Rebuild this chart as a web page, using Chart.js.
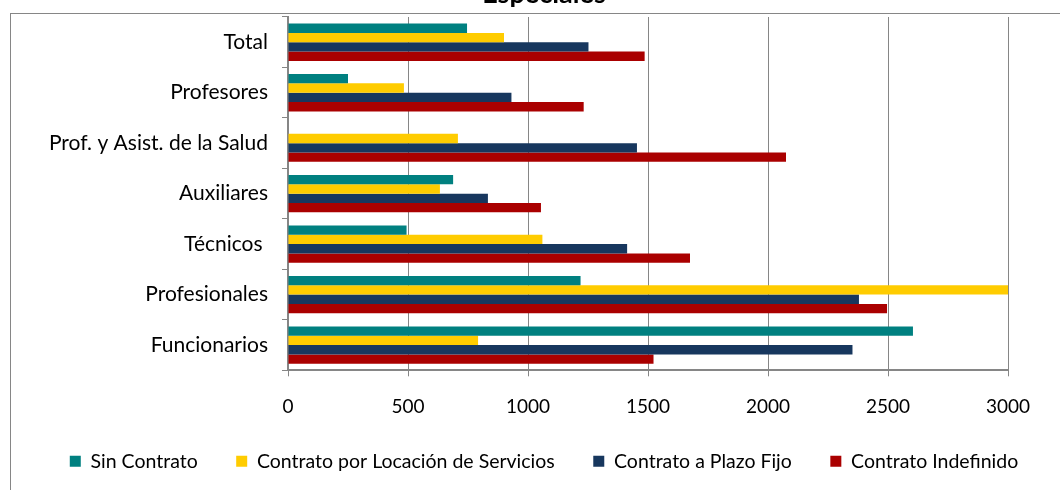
<!DOCTYPE html>
<html>
<head>
<meta charset="utf-8">
<script src="https://cdn.jsdelivr.net/npm/chart.js@4.4.1/dist/chart.umd.min.js"></script>
<style>
  html, body { margin: 0; padding: 0; background: #fff; overflow: hidden; }
  #frame { position: absolute; left: 10px; top: 13px; width: 1100px; height: 500px;
           border-left: 1px solid #868686; border-top: 1px solid #868686; }
  #wrap { position: absolute; left: 0; top: -20px; width: 1060px; height: 501px; }
</style>
</head>
<body>
<div id="frame"></div>
<div id="wrap"><canvas id="chart"></canvas></div>
<script>
// ---------- Data ----------
const categories = ['Total', 'Profesores', 'Prof. y Asist. de la Salud', 'Auxiliares', 'Técnicos ', 'Profesionales', 'Funcionarios'];
const sinContrato   = [746, 250, 0, 688, 494, 1219, 2604];
const locServicios  = [900, 483, 708, 633, 1060, 3000, 792];
const plazoFijo     = [1252, 931, 1454, 833, 1413, 2379, 2352];
const indefinido    = [1486, 1232, 2075, 1054, 1675, 2496, 1523];
const xTicks = [0, 500, 1000, 1500, 2000, 2500, 3000];

const FONT = "Lato, 'Liberation Sans', sans-serif";
const GRID = '#868686';
const GAP = '\u2002\u2002 '; // extra room between legend entries

const mk = (label, data, color) => ({
  label, data, backgroundColor: color, borderWidth: 0,
  categoryPercentage: 0.74, barPercentage: 1.0
});

new Chart(document.getElementById('chart'), {
  type: 'bar',
  data: {
    labels: categories,
    datasets: [
      mk('Sin Contrato', sinContrato, '#008080'),
      mk('Contrato por Locación de Servicios', locServicios, '#FFCC00'),
      mk('Contrato a Plazo Fijo', plazoFijo, '#17375E'),
      mk('Contrato Indefinido', indefinido, '#AA0000')
    ]
  },
  options: {
    indexAxis: 'y',
    responsive: true,
    maintainAspectRatio: false,
    animation: false,
    layout: { padding: { left: 28, right: 0, top: 0, bottom: 0 } },
    plugins: {
      title: {
        display: true, text: 'Especiales', color: '#000',
        font: { family: FONT, size: 27, weight: 'bold', lineHeight: 1 },
        padding: { top: 1, bottom: 9 }
      },
      legend: {
        position: 'bottom',
        labels: {
          color: '#000', font: { family: FONT, size: 19.5 },
          boxWidth: 11, boxHeight: 11, padding: 14,
          generateLabels: chart => {
            const items = Chart.defaults.plugins.legend.labels.generateLabels(chart);
            items.forEach((it, i) => { if (i < items.length - 1) it.text += GAP; });
            return items;
          }
        }
      },
      tooltip: { enabled: false }
    },
    scales: {
      x: {
        min: 0, max: 3000,
        afterBuildTicks: s => { s.ticks = xTicks.map(v => ({ value: v })); },
        grid: { color: GRID, lineWidth: 1, tickLength: 6 },
        border: { color: GRID, width: 2 },
        ticks: { color: '#000', font: { family: FONT, size: 19, lineHeight: 0.8 }, padding: 23,
                 callback: v => String(v) }
      },
      y: {
        afterFit: s => { s.width = 260; },
        grid: { offset: true, drawOnChartArea: false, tickLength: 6, color: GRID },
        border: { color: GRID, width: 2 },
        ticks: { color: '#000', font: { family: FONT, size: 21 }, padding: 14 }
      },
      // empty right-hand axis: only reserves the space right of the plot
      yRight: {
        type: 'category', position: 'right',
        afterFit: s => { s.width = 52; },
        grid: { display: false }, border: { display: false },
        ticks: { display: false }
      }
    }
  }
});
</script>
</body>
</html>
